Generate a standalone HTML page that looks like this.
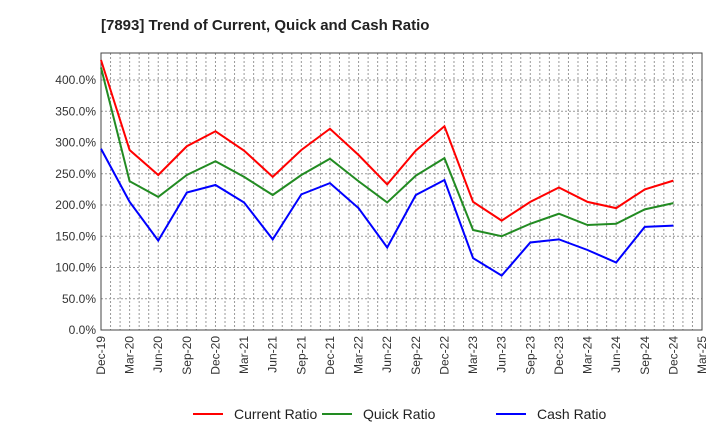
<!DOCTYPE html>
<html><head><meta charset="utf-8"><style>
body{margin:0;background:#fff;font-family:"Liberation Sans",sans-serif}
</style></head><body>
<svg id="c" width="720" height="440" xmlns="http://www.w3.org/2000/svg">
<text x="101" y="30" font-size="15" font-weight="bold" fill="#222">[7893]  Trend of Current, Quick and Cash Ratio</text>
<g id="grid"></g><g id="axes"></g><g id="lines"></g>
<g id="legend"></g>
</svg>
<script>
const categories=["Dec-19","Mar-20","Jun-20","Sep-20","Dec-20","Mar-21","Jun-21","Sep-21","Dec-21","Mar-22","Jun-22","Sep-22","Dec-22","Mar-23","Jun-23","Sep-23","Dec-23","Mar-24","Jun-24","Sep-24","Dec-24"];
const tickLabels=["Dec-19","Mar-20","Jun-20","Sep-20","Dec-20","Mar-21","Jun-21","Sep-21","Dec-21","Mar-22","Jun-22","Sep-22","Dec-22","Mar-23","Jun-23","Sep-23","Dec-23","Mar-24","Jun-24","Sep-24","Dec-24","Mar-25"];
const currentRatio=[432,288,248,294,318,287,245,288,322,280,233,287,326,205,175,205,228,205,195,225,239];
const quickRatio=[420,238,213,248,270,245,216,248,274,238,204,247,275,160,150,170,186,168,170,193,203];
const cashRatio=[290,205,143,220,232,204,145,217,235,195,132,216,240,115,87,140,145,128,108,165,167];
const yTicks=[0,50,100,150,200,250,300,350,400];
const NS="http://www.w3.org/2000/svg";
const L=101,R=702,T=53,B=330,yMax=443.2;
const x=i=>L+(R-L)*i/63; // i in months
const xq=i=>x(i*3);
const y=v=>B-(B-T)*v/yMax;
function mk(tag,attrs,parent){const e=document.createElementNS(NS,tag);for(const k in attrs)e.setAttribute(k,attrs[k]);parent.appendChild(e);return e;}
const grid=document.getElementById('grid'),axes=document.getElementById('axes'),lines=document.getElementById('lines'),legend=document.getElementById('legend');
for(let m=1;m<63;m++){const g=mk('line',{x1:x(m),x2:x(m),y1:T,y2:B,stroke:'#999','stroke-dasharray':'2,2','stroke-width':1},grid);

}
yTicks.forEach(v=>{if(v>0){const g=mk('line',{x1:L,x2:R,y1:y(v),y2:y(v),stroke:'#999','stroke-dasharray':'2,2'},grid);

}
const t=mk('text',{x:L-5,y:y(v)+4,'font-size':12,'text-anchor':'end',fill:'#333'},axes);t.textContent=v.toFixed(1)+'%';

});
const frame=mk('rect',{x:L,y:T,width:R-L,height:B-T,fill:'none',stroke:'#444','stroke-width':1},axes);


tickLabels.forEach((s,i)=>{const px=xq(i);const t=mk('text',{x:px+4,y:B+6,'font-size':12,'text-anchor':'end',fill:'#333',transform:`rotate(-90 ${px+4} ${B+6})`},axes);t.textContent=s;

});
const series=[[currentRatio,'#ff0000','Current Ratio','current-ratio-line'],[quickRatio,'#228b22','Quick Ratio','quick-ratio-line'],[cashRatio,'#0000ff','Cash Ratio','cash-ratio-line']];
const lx=[193,322,496];
series.forEach(([d,c,n,id],k)=>{const p=mk('polyline',{points:d.map((v,i)=>xq(i)+','+y(v)).join(' '),fill:'none',stroke:c,'stroke-width':2},lines);


const g=mk('g',{},legend);


mk('line',{x1:lx[k],x2:lx[k]+30,y1:414,y2:414,stroke:c,'stroke-width':2},g);
const t=mk('text',{x:lx[k]+41,y:419,'font-size':14,fill:'#222'},g);t.textContent=n;});
</script>
</body></html>
